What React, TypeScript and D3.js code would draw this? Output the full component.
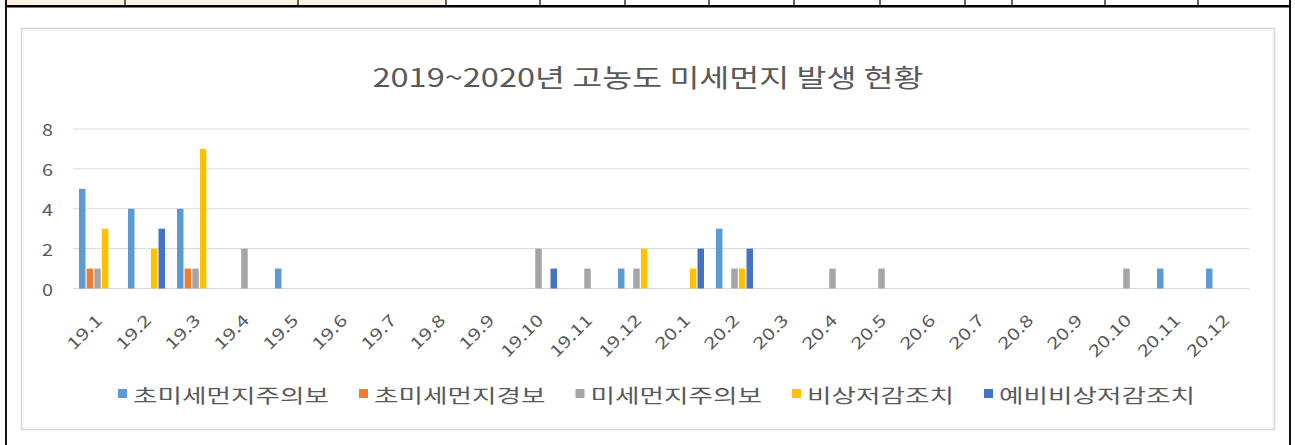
import React from 'react';
import * as d3 from 'd3';

const categories = ['19.1','19.2','19.3','19.4','19.5','19.6','19.7','19.8','19.9','19.10','19.11','19.12','20.1','20.2','20.3','20.4','20.5','20.6','20.7','20.8','20.9','20.10','20.11','20.12'];
const seriesNames = ['초미세먼지주의보','초미세먼지경보','미세먼지주의보','비상저감조치','예비비상저감조치'];
const pm25Advisory = [5,4,4,0,1,0,0,0,0,0,0,1,0,3,0,0,0,0,0,0,0,0,1,1];
const pm25Warning = [1,0,1,0,0,0,0,0,0,0,0,0,0,0,0,0,0,0,0,0,0,0,0,0];
const pm10Advisory = [1,0,1,2,0,0,0,0,0,2,1,1,0,1,0,1,1,0,0,0,0,1,0,0];
const emergency = [3,2,7,0,0,0,0,0,0,0,0,2,1,1,0,0,0,0,0,0,0,0,0,0];
const preEmergency = [0,3,0,0,0,0,0,0,0,1,0,0,2,2,0,0,0,0,0,0,0,0,0,0];
const seriesValues = [pm25Advisory, pm25Warning, pm10Advisory, emergency, preEmergency];
const colors = ['#5B9BD5','#ED7D31','#A5A5A5','#FFC000','#4472C4'];
const yTicks = [0,2,4,6,8];
const title = '2019~2020년 고농도 미세먼지 발생 현황';
const tableDividers = [125,298,446,540,625,709,794,880,965,1012,1105,1198];

const FONT = '"Noto Sans CJK KR", "Noto Sans", sans-serif';
const TXT = '#595959';

export default function App() {
  const W = 1295, H = 445;
  const x = d3.scaleBand<string>().domain(categories).range([73, 1249]).paddingInner(0.245).paddingOuter(0.1225);
  const xs = d3.scaleBand<number>().domain(d3.range(seriesNames.length)).range([0, x.bandwidth()]).paddingInner(0.15).paddingOuter(0);
  const y = d3.scaleLinear().domain([0, 8]).range([288.5, 129]);
  const charW = 24.5;
  let lx = 118;
  const legend = seriesNames.map((n, i) => {
    const item = { n, i, sx: lx, tx: lx + 15, tl: n.length * charW };
    lx = item.tx + item.tl + 30;
    return item;
  });
  return (
    <svg width={W} height={H} style={{ position: 'absolute', left: 0, top: 0, background: '#fff' }} fontFamily={FONT}>
      {/* table remnants */}
      <rect x={6} y={0} width={440} height={5} fill="#FCF3E5" />
      {tableDividers.map((d, i) => (
        <line key={i} x1={d} x2={d} y1={0} y2={6} stroke="#111" strokeWidth={1.3} />
      ))}
      <rect x={5} y={5} width={1286} height={2.5} fill="#000" />
      <rect x={5} y={0} width={2} height={H} fill="#111" />
      <rect x={1289} y={0} width={2} height={H} fill="#111" />
      {/* chart frame */}
      <rect x={21.5} y={28.5} width={1253} height={401} fill="#fff" stroke="#d6d6d6" strokeWidth={1.5} />
      <rect x={23} y={30} width={1250} height={398} fill="none" stroke="#f0f0f0" strokeWidth={1} />
      <text x={648} y={76} textAnchor="middle" dominantBaseline="central" fontSize={25} fill={TXT}
        textLength={551} lengthAdjust="spacingAndGlyphs">{title}</text>
      {yTicks.map(t => (
        <g key={t}>
          <line x1={73} x2={1249} y1={y(t)} y2={y(t)} stroke="#d9d9d9" strokeWidth={1} />
          <text x={53} y={y(t)} textAnchor="end" dominantBaseline="central" fontSize={16.5} fill={TXT}
            textLength={11} lengthAdjust="spacingAndGlyphs">{t}</text>
        </g>
      ))}
      {seriesValues.map((vals, si) => (
        <g key={si} fill={colors[si]}>
          {vals.map((v, ci) => v > 0 ? (
            <rect key={ci} x={(x(categories[ci]) as number) + (xs(si) as number)} y={y(v)}
              width={xs.bandwidth()} height={y(0) - y(v)} />
          ) : null)}
        </g>
      ))}
      {categories.map(c => {
        const cx = (x(c) as number) + x.bandwidth() / 2 + 1;
        const cy = 316.5;
        return (
          <text key={c} x={cx} y={cy} transform={`rotate(-45 ${cx} ${cy})`} textAnchor="end" dominantBaseline="central"
            fontSize={16.5} fill={TXT} textLength={c.length * 10.4} lengthAdjust="spacingAndGlyphs">{c}</text>
        );
      })}
      {legend.map(l => (
        <g key={l.i}>
          <rect x={l.sx} y={389} width={9} height={9} fill={colors[l.i]} />
          <text x={l.tx} y={394} dominantBaseline="central" fontSize={19.5} fill={TXT}
            textLength={l.tl} lengthAdjust="spacingAndGlyphs">{l.n}</text>
        </g>
      ))}
    </svg>
  );
}
